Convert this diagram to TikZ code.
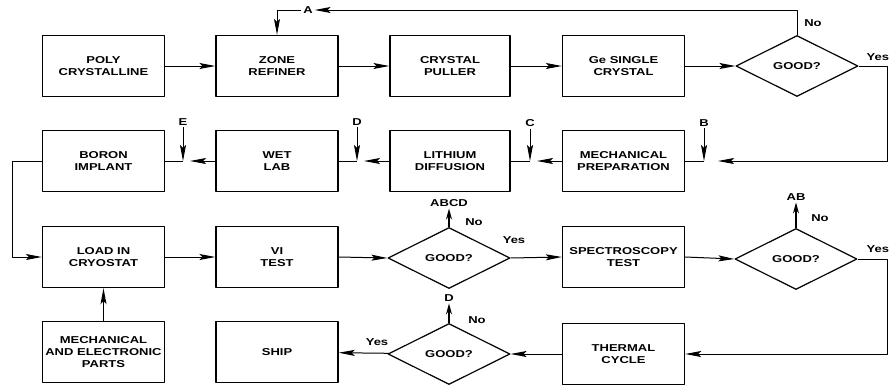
\documentclass[tikz,border=0pt]{standalone}
\usepackage{fontspec}
\newfontfamily\flowfont{Liberation Sans}[FakeStretch=1.3]
\usetikzlibrary{shapes.geometric,arrows.meta}

\begin{document}
\begin{tikzpicture}[x=1pt,y=-1pt,line join=round,>={Stealth[length=16pt,width=6pt,inset=3pt]},line width=1pt]
			\tikzset{every node/.style={font=\flowfont\bfseries\fontsize{10}{12}\selectfont},
				box/.style={draw,line width=1.4pt,minimum width=122pt,minimum height=61pt,align=center,inner sep=1pt},
				decision/.style={draw,diamond,aspect=2,line width=1.2pt,minimum width=122pt,minimum height=61pt,inner sep=0pt},
				lbl/.style={inner sep=1.5pt},
				back/.style={->,line width=1.3pt,>={Stealth[length=11pt,width=6pt]}}}
			\useasboundingbox (0,0) rectangle (891,389);
			% first row
			\node[box] (poly) at (103.5,66) {POLY\\CRYSTALLINE};
			\node[box] (zone) at (277,66) {ZONE\\REFINER};
			\node[box,minimum width=120pt] (puller) at (450,66) {CRYSTAL\\PULLER};
			\node[box] (gecryst) at (623.5,66) {Ge SINGLE\\CRYSTAL};
			\node[decision] (good1) at (797,66) {GOOD?};
			\node[lbl] (lblA) at (308,10) {A};
			\node[lbl] (no1) at (813,23) {No};
			\node[lbl,anchor=east] (yes1) at (891,57) {Yes};
			% second row
			\node[box] (boron) at (103.5,161) {BORON\\IMPLANT};
			\node[box] (wetlab) at (277,161) {WET\\LAB};
			\node[box,minimum width=120pt] (lith) at (450,161) {LITHIUM\\DIFFUSION};
			\node[box] (mechprep) at (623.5,161) {MECHANICAL\\PREPARATION};
			\node[lbl] (lblE) at (183,122) {E};
			\node[lbl] (lblD) at (357,122) {D};
			\node[lbl] (lblC) at (530,123) {C};
			\node[lbl] (lblB) at (704,123) {B};
			\coordinate (jE) at (183,161); \coordinate (tE) at (190,161);
			\coordinate (jD) at (357,161); \coordinate (tD) at (364,161);
			\coordinate (jC) at (530,161); \coordinate (tC) at (537,161);
			\coordinate (jB) at (704,161); \coordinate (tB) at (718,161);
			\coordinate (cR1) at (887,161);
			% third row
			\node[box] (load) at (103.5,257) {LOAD IN\\CRYOSTAT};
			\node[box] (vitest) at (277,257) {VI\\TEST};
			\node[decision] (good2) at (449,258) {GOOD?};
			\node[box] (spect) at (623.5,257) {SPECTROSCOPY\\TEST};
			\node[decision] (good3) at (796,259) {GOOD?};
			\node[lbl] (lblABCD) at (449,203) {ABCD};
			\node[lbl] (no2) at (474,222) {No};
			\node[lbl] (yes2) at (514,240) {Yes};
			\node[lbl] (lblAB) at (796,197) {AB};
			\node[lbl] (no3) at (820,218) {No};
			\node[lbl,anchor=east] (yes3) at (891,249) {Yes};
			\coordinate (bend) at (12,257);
			\coordinate (cR3) at (887,354);
			% fourth row
			\node[box] (parts) at (103.5,352) {MECHANICAL\\AND ELECTRONIC\\PARTS};
			\node[box] (ship) at (277,352) {SHIP};
			\node[decision] (good4) at (449,354) {GOOD?};
			\node[box] (thermal) at (623.5,354) {THERMAL\\CYCLE};
			\node[lbl] (lblD2) at (449,298) {D};
			\node[lbl] (no4) at (477,320) {No};
			\node[lbl] (yes4) at (377,342) {Yes};
			% connectors
			\draw[->] (poly) -- (zone);
			\draw[->] (zone) -- (puller);
			\draw[->] (puller) -- (gecryst);
			\draw[->] (gecryst) -- (good1);
			\draw[->] (good1.north) |- (lblA);
			\draw[->] (lblA) -| (zone.north);
			\draw[->] (good1.east) -| (cR1) -- (tB);
			\draw (mechprep.east) -- (jB);
			\draw[->] (lblB) -- (jB);
			\draw[->] (mechprep.west) -- (tC);
			\draw (lith.east) -- (jC);
			\draw[->] (lblC) -- (jC);
			\draw[->] (lith.west) -- (tD);
			\draw (wetlab.east) -- (jD);
			\draw[->] (lblD) -- (jD);
			\draw[->] (wetlab.west) -- (tE);
			\draw (boron.east) -- (jE);
			\draw[->] (lblE) -- (jE);
			\draw[->] (boron.west) -| (bend) -- (load.west);
			\draw[->] (parts) -- (load);
			\draw[->] (load) -- (vitest);
			\draw[->] (vitest.east) -- (good2.west);
			\draw[->] (good2.east) -- (spect.west);
			\draw[back] (good2.north) -- (lblABCD);
			\draw[->] (spect.east) -- (good3.west);
			\draw[back] (good3.north) -- (lblAB);
			\draw[->] (good3.east) -| (cR3) -- (thermal.east);
			\draw[->] (thermal) -- (good4);
			\draw[->] (good4) -- (ship);
			\draw[back] (good4.north) -- (lblD2);
		\end{tikzpicture}
\end{document}
